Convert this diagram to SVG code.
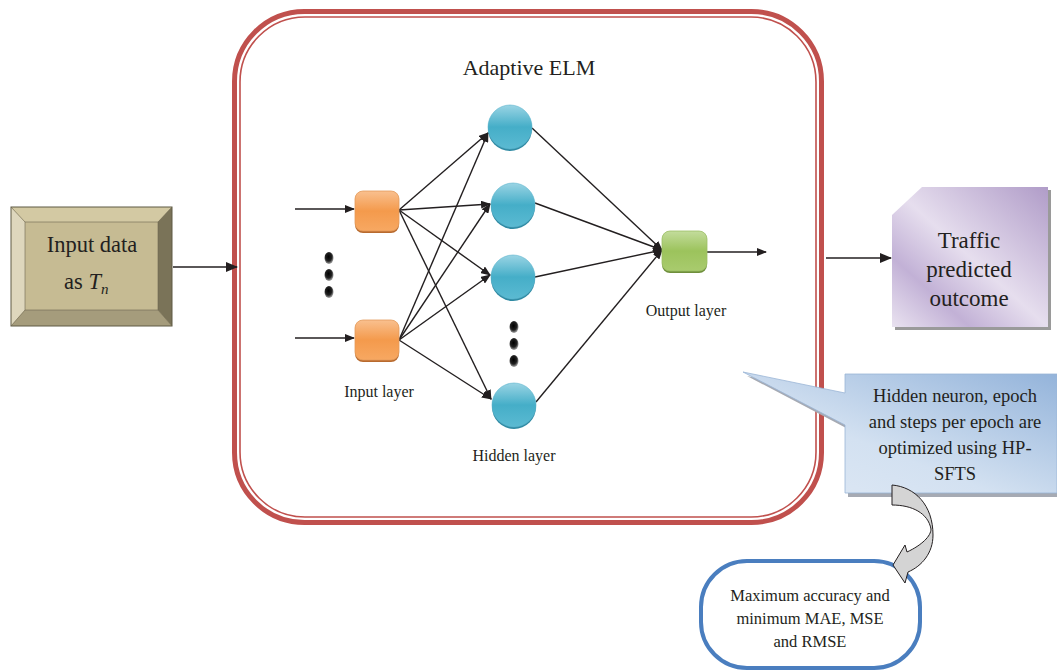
<svg xmlns="http://www.w3.org/2000/svg" width="1057" height="671" viewBox="0 0 1057 671">
<style>
text{font-family:"Liberation Serif","Times New Roman",serif;fill:#231f20}
.ln{stroke:#231f20;stroke-width:1.4;fill:none}
.lbl{font-size:16px}
.big{font-size:22.5px}
.tr{font-size:23px}
.co{font-size:18.5px}
.mt{font-size:16.5px}
</style>
<defs>
<marker id="ah" markerWidth="10" markerHeight="8" refX="9" refY="4" orient="auto" markerUnits="userSpaceOnUse">
<path d="M0,0 L10,4 L0,8 Z" fill="#231f20"/>
</marker>
<marker id="ahb" markerWidth="12" markerHeight="10" refX="11" refY="5" orient="auto" markerUnits="userSpaceOnUse">
<path d="M0,0 L12,5 L0,10 Z" fill="#231f20"/>
</marker>
<linearGradient id="gOr" x1="0" y1="0" x2="0" y2="1">
<stop offset="0" stop-color="#f9c08f"/><stop offset="0.5" stop-color="#f49a4c"/><stop offset="1" stop-color="#f7a862"/>
</linearGradient>
<linearGradient id="gGr" x1="0" y1="0" x2="0" y2="1">
<stop offset="0" stop-color="#c3dc9c"/><stop offset="0.5" stop-color="#9cc35c"/><stop offset="1" stop-color="#a9cb6e"/>
</linearGradient>
<linearGradient id="gBl" x1="0" y1="0" x2="0" y2="1">
<stop offset="0" stop-color="#9ad4e4"/><stop offset="0.5" stop-color="#45aec8"/><stop offset="1" stop-color="#5bbad2"/>
</linearGradient>
<radialGradient id="gDot" cx="0.45" cy="0.4" r="0.6">
<stop offset="0" stop-color="#000"/><stop offset="0.6" stop-color="#222"/><stop offset="1" stop-color="#aaa"/>
</radialGradient>
<linearGradient id="gPu" x1="1" y1="0" x2="0" y2="1">
<stop offset="0" stop-color="#b09cc8"/><stop offset="0.5" stop-color="#e6deee"/><stop offset="0.75" stop-color="#c2b1d6"/><stop offset="1" stop-color="#e9e2f0"/>
</linearGradient>
<linearGradient id="gCb" x1="1" y1="0" x2="0" y2="1">
<stop offset="0" stop-color="#93b3da"/><stop offset="0.6" stop-color="#d3e1f1"/><stop offset="1" stop-color="#dfe9f5"/>
</linearGradient>
</defs>

<g id="adaptive-elm">
<rect x="234.5" y="11.5" width="587" height="511" rx="70" fill="#fff" stroke="#c0504d" stroke-width="5"/>
<rect x="240" y="17" width="576" height="500" rx="65" fill="none" stroke="#c0504d" stroke-width="1.6"/>
<text x="529" y="75" text-anchor="middle" style="font-size:22px">Adaptive ELM</text>
</g>

<g id="input-data">
<rect x="11" y="207" width="161" height="119" fill="#c6bb93"/>
<polygon points="11,207 25,222 25,310 11,326" fill="#ded7bd"/>
<polygon points="11,207 172,207 158,222 25,222" fill="#d3c9a3"/>
<polygon points="172,207 172,326 158,310 158,222" fill="#7a7358"/>
<polygon points="11,326 172,326 158,310 25,310" fill="#a59c7c"/>
<rect x="11" y="207" width="161" height="119" fill="none" stroke="#5f5a45" stroke-width="1"/>
<rect x="25" y="222" width="133" height="88" fill="none" stroke="#6d6750" stroke-width="0.6"/>
<line x1="11" y1="207" x2="25" y2="222" stroke="#6d6750" stroke-width="0.6"/>
<line x1="172" y1="207" x2="158" y2="222" stroke="#6d6750" stroke-width="0.6"/>
<line x1="11" y1="326" x2="25" y2="310" stroke="#6d6750" stroke-width="0.6"/>
<line x1="172" y1="326" x2="158" y2="310" stroke="#6d6750" stroke-width="0.6"/>
<text x="92" y="252" text-anchor="middle" class="big">Input data</text>
<text x="64" y="289" class="big">as <tspan font-style="italic">T</tspan><tspan font-style="italic" font-size="15" dy="5">n</tspan></text>
</g>

<g id="traffic-outcome">
<polygon points="895,218 925,190 1051,190 1051,330 895,330" fill="#9a9a9a"/>
<polygon points="892,215 922,187 1048,187 1048,327 892,327" fill="url(#gPu)"/>
<text x="969" y="248" text-anchor="middle" class="tr">Traffic</text>
<text x="969" y="277" text-anchor="middle" class="tr">predicted</text>
<text x="969" y="306" text-anchor="middle" class="tr">outcome</text>
</g>

<g id="callout">
<polygon points="848,378 1061,378 1061,497 848,497 848,429 747,376 848,397" fill="#a6aab3"/>
<polygon points="845,374 1057,374 1057,493 845,493 845,425 743,372 845,393" fill="url(#gCb)" stroke="#9bb5d6" stroke-width="0.8"/>
<text x="955" y="402" text-anchor="middle" class="co">Hidden neuron, epoch</text>
<text x="955" y="428" text-anchor="middle" class="co">and steps per epoch are</text>
<text x="955" y="454" text-anchor="middle" class="co">optimized using HP-</text>
<text x="955" y="480" text-anchor="middle" class="co">SFTS</text>
</g>

<g id="metrics">
<rect x="701" y="561" width="219" height="107" rx="46" fill="#fff" stroke="#4a7ebf" stroke-width="4"/>
<text x="810" y="601" text-anchor="middle" class="mt">Maximum accuracy and</text>
<text x="810" y="624" text-anchor="middle" class="mt">minimum MAE, MSE</text>
<text x="810" y="647" text-anchor="middle" class="mt">and RMSE</text>
</g>

<g id="curved-arrow">
<path d="M892,485 C915,487 933,505 933,535 C933,553 922,566 908,572 L905,583 L893,565 L905,545 L907,552 C922,545 931,536 931,529 C928,513 912,505 892,505 Z" fill="#d4d4d4" stroke="#231f20" stroke-width="1"/>
</g>

<g id="connectors">
<line class="ln" x1="173" y1="267" x2="237" y2="267" stroke-width="2" marker-end="url(#ahb)"/>
<line class="ln" x1="826" y1="258" x2="891" y2="258" stroke-width="2" marker-end="url(#ahb)"/>
<line class="ln" x1="295" y1="209" x2="354" y2="209" marker-end="url(#ah)"/>
<line class="ln" x1="295" y1="338" x2="354" y2="338" marker-end="url(#ah)"/>
<line class="ln" x1="399" y1="210" x2="488" y2="133" marker-end="url(#ah)"/>
<line class="ln" x1="399" y1="210" x2="490" y2="204" marker-end="url(#ah)"/>
<line class="ln" x1="399" y1="210" x2="490" y2="275" marker-end="url(#ah)"/>
<line class="ln" x1="399" y1="210" x2="491" y2="399" marker-end="url(#ah)"/>
<line class="ln" x1="399" y1="340" x2="488" y2="133" marker-end="url(#ah)"/>
<line class="ln" x1="399" y1="340" x2="490" y2="204" marker-end="url(#ah)"/>
<line class="ln" x1="399" y1="340" x2="490" y2="275" marker-end="url(#ah)"/>
<line class="ln" x1="399" y1="340" x2="491" y2="399" marker-end="url(#ah)"/>
<line class="ln" x1="532" y1="128" x2="662" y2="250" marker-end="url(#ah)"/>
<line class="ln" x1="535" y1="203" x2="662" y2="250" marker-end="url(#ah)"/>
<line class="ln" x1="535" y1="277" x2="662" y2="250" marker-end="url(#ah)"/>
<line class="ln" x1="536" y1="402" x2="662" y2="250" marker-end="url(#ah)"/>
<line class="ln" x1="707" y1="252" x2="766" y2="252" marker-end="url(#ah)"/>
</g>

<g id="input-node-1">
<rect x="355" y="193" width="44" height="40" rx="8" fill="#b86a2e"/>
<rect x="355" y="191" width="44" height="40" rx="8" fill="url(#gOr)" stroke="#e39a5a" stroke-width="0.8"/>
</g>
<g id="input-node-2">
<rect x="355" y="322" width="44" height="40" rx="8" fill="#b86a2e"/>
<rect x="355" y="320" width="44" height="40" rx="8" fill="url(#gOr)" stroke="#e39a5a" stroke-width="0.8"/>
</g>
<g id="input-dots">
<ellipse cx="329" cy="258" rx="4.5" ry="6" fill="url(#gDot)"/>
<ellipse cx="329" cy="275" rx="4.5" ry="6" fill="url(#gDot)"/>
<ellipse cx="329" cy="292" rx="4.5" ry="6" fill="url(#gDot)"/>
</g>
<text id="input-layer-label" x="379" y="397" text-anchor="middle" class="lbl">Input layer</text>

<g id="hidden-node-1">
<circle cx="510" cy="129" r="22" fill="#2f8aa3"/>
<circle cx="510" cy="127" r="22" fill="url(#gBl)" stroke="#5bb4cc" stroke-width="0.6"/>
</g>
<g id="hidden-node-2">
<circle cx="513" cy="207" r="22" fill="#2f8aa3"/>
<circle cx="513" cy="205" r="22" fill="url(#gBl)" stroke="#5bb4cc" stroke-width="0.6"/>
</g>
<g id="hidden-node-3">
<circle cx="513" cy="279" r="22" fill="#2f8aa3"/>
<circle cx="513" cy="277" r="22" fill="url(#gBl)" stroke="#5bb4cc" stroke-width="0.6"/>
</g>
<g id="hidden-node-4">
<circle cx="514" cy="407" r="22" fill="#2f8aa3"/>
<circle cx="514" cy="405" r="22" fill="url(#gBl)" stroke="#5bb4cc" stroke-width="0.6"/>
</g>
<g id="hidden-dots">
<ellipse cx="514" cy="327" rx="4.5" ry="6" fill="url(#gDot)"/>
<ellipse cx="514" cy="344" rx="4.5" ry="6" fill="url(#gDot)"/>
<ellipse cx="514" cy="361" rx="4.5" ry="6" fill="url(#gDot)"/>
</g>
<text id="hidden-layer-label" x="514" y="461" text-anchor="middle" class="lbl">Hidden layer</text>

<g id="output-node">
<rect x="662" y="233" width="45" height="40" rx="8" fill="#6f8f3c"/>
<rect x="662" y="231" width="45" height="40" rx="8" fill="url(#gGr)" stroke="#9cbf66" stroke-width="0.8"/>
</g>
<text id="output-layer-label" x="686" y="316" text-anchor="middle" class="lbl">Output layer</text>
</svg>
